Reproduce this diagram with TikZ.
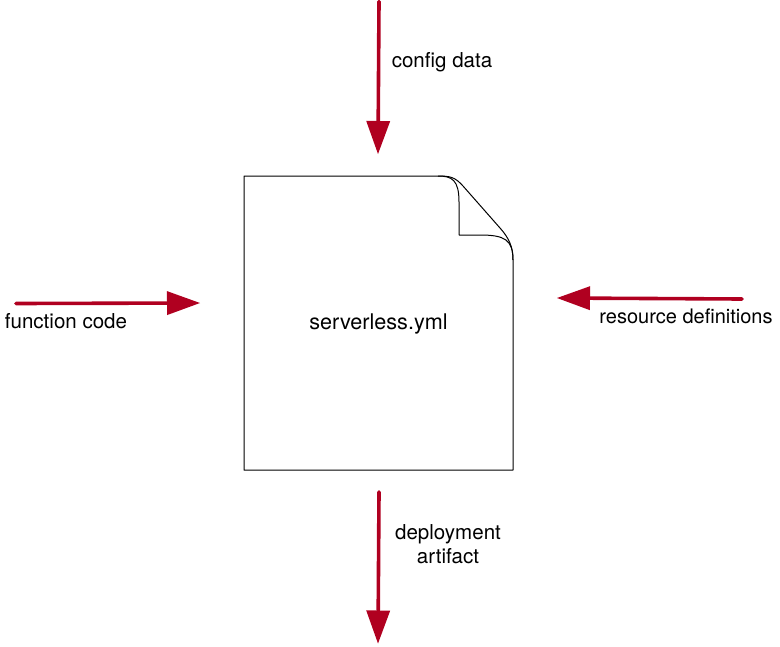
\documentclass[tikz,border=0pt]{standalone}
\usepackage{fontspec}
\setmainfont{TeX Gyre Heros}
\usetikzlibrary{arrows.meta}
\definecolor{arrowred}{RGB}{176,0,32}
\tikzset{
  flow/.style={draw=arrowred,line width=2.7pt,line cap=round,-{Triangle[length=24.75pt,width=18pt,sharp,line width=0pt]}},
  lbl/.style={inner sep=0pt,align=center,font=\fontsize{15.4pt}{17.6pt}\selectfont,text=black},
  page/.style={draw=black,line width=0.75pt,line join=round}
}
\begin{document}
\begin{tikzpicture}[x=0.75pt,y=-0.75pt]
\useasboundingbox (0,0) rectangle (780,646);
% document
\draw[page] (244,176) -- (438,176) .. controls (450,176) and (455,177) .. (463,186)
  -- (500,228) .. controls (509,238) and (513,247) .. (513,260) -- (513,470) -- (244,470) -- cycle;
\draw[page] (438,176) .. controls (452,176) and (459,180) .. (459,202) -- (459,235) -- (480,235)
  .. controls (505,235) and (513,240) .. (513,260);
\node[lbl,font=\fontsize{16.2pt}{18pt}\selectfont] (doc) at (378.5,324) {serverless.yml};
% free ends
\coordinate (topA) at (379,1.5);
\coordinate (topB) at (378,154);
\coordinate (leftA) at (16,303.5);
\coordinate (leftB) at (200,303);
\coordinate (rightA) at (742,299);
\coordinate (rightB) at (557,298);
\coordinate (botA) at (379,492);
\coordinate (botB) at (378,643.5);
\draw[flow] (topA) -- (topB);
\draw[flow] (leftA) -- (leftB);
\draw[flow] (rightA) -- (rightB);
\draw[flow] (botA) -- (botB);
\node[lbl] (config) at (442,62) {config data};
\node[lbl] (func) at (66,321) {function code};
\node[lbl,font=\fontsize{15pt}{17.6pt}\selectfont] (res) at (686,316) {resource definitions};
\node[lbl] (deploy) at (448,544) {deployment\\artifact};
\end{tikzpicture}
\end{document}
